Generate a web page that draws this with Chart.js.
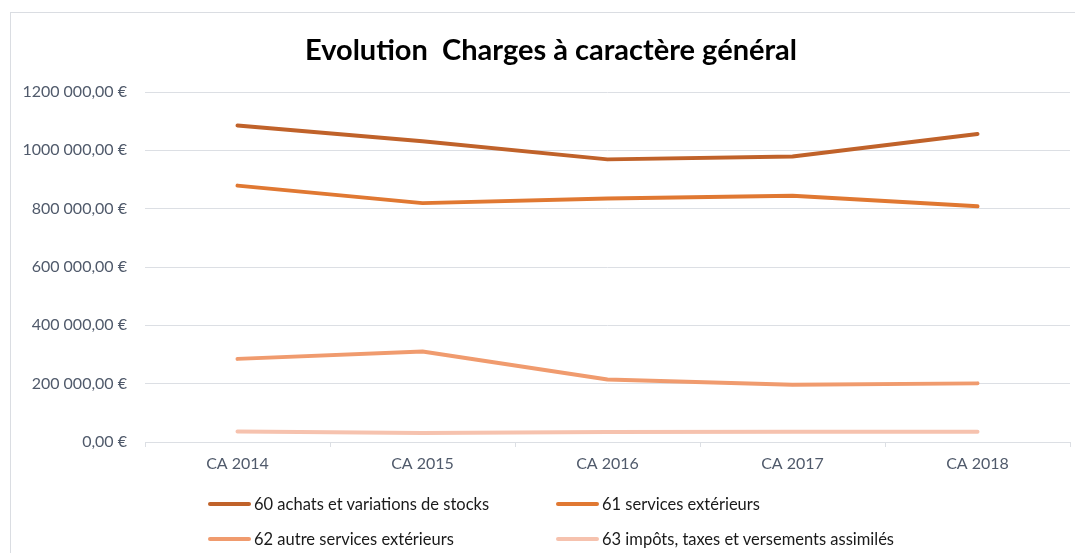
<!DOCTYPE html>
<html>
<head>
<meta charset="utf-8">
<script src="https://cdn.jsdelivr.net/npm/chart.js@4"></script>
<style>
  html, body { margin:0; padding:0; background:#fff; overflow:hidden; }
  #frame { position:absolute; left:10px; top:12px; width:1100px; height:600px; border:1px solid #DADDE2; }
  #wrap  { position:absolute; left:0; top:0; width:1075px; height:553px; }
  #title { position:absolute; left:0; top:31px; width:1102px; text-align:center; white-space:pre;
           font-family:Lato, sans-serif; font-weight:bold; font-size:29px; line-height:35px; color:#000; }
  #legend { position:absolute; left:208px; top:489px; display:grid; grid-template-columns:348px 348px; row-gap:5px;
            font-family:Lato, sans-serif; font-size:16.5px; color:#1a1a1a; }
  .lg-item { display:flex; align-items:center; height:30px; white-space:nowrap; }
  .lg-line { display:inline-block; width:43px; height:4px; border-radius:2px; margin-right:3px; }
</style>
</head>
<body>
<div id="frame"></div>
<div id="wrap"><canvas id="chart" width="1075" height="553"></canvas></div>
<div id="title"></div>
<div id="legend"></div>
<script>
// ── Data ────────────────────────────────────────────────────────────────
const chartTitle = 'Evolution  Charges à caractère général';
const years = ['CA 2014', 'CA 2015', 'CA 2016', 'CA 2017', 'CA 2018'];

const achats60   = [1085000, 1031000, 969000, 979000, 1056000];
const services61 = [ 879000,  819000, 835000, 844000,  808000];
const autres62   = [ 285000,  310000, 214000, 196000,  201000];
const impots63   = [  36000,   31000,  34000,  35000,   35000];

const seriesNames = [
  '60 achats et variations de stocks',
  '61 services extérieurs',
  '62 autre services extérieurs',
  '63 impôts, taxes et versements assimilés'
];
const seriesColors = ['#C0622A', '#E07832', '#F09B6E', '#F6C2AE'];

const yTicks      = [0, 200000, 400000, 600000, 800000, 1000000, 1200000];
const yTickLabels = ['0,00 €', '200 000,00 €', '400 000,00 €', '600 000,00 €', '800 000,00 €', '1000 000,00 €', '1200 000,00 €'];

// ── Chart ───────────────────────────────────────────────────────────────
const gridCol = '#DCDFE4';
const tickCol = '#505A6B';
const font    = 'Lato, sans-serif';

document.getElementById('title').textContent = chartTitle;

const datasets = [achats60, services61, autres62, impots63].map((vals, i) => ({
  label: seriesNames[i],
  data: vals,
  borderColor: seriesColors[i],
  backgroundColor: seriesColors[i],
  borderWidth: 4,
  borderCapStyle: 'round',
  borderJoinStyle: 'round',
  pointRadius: 0,
  tension: 0,
  fill: false,
}));

const chart = new Chart(document.getElementById('chart').getContext('2d'), {
  type: 'line',
  data: { labels: years, datasets },
  options: {
    responsive: false,
    animation: false,
    layout: { padding: { left: 0, right: 5, top: 92, bottom: 71 } },
    plugins: {
      legend: { display: false },
      tooltip: { enabled: false },
      title: { display: false }
    },
    scales: {
      x: {
        offset: true,
        grid: { display: true, drawOnChartArea: false, offset: true, color: gridCol, tickLength: 5 },
        border: { display: true, color: gridCol },
        ticks: { color: tickCol, padding: 7, maxRotation: 0, font: { family: font, size: 16 } },
        afterFit: s => { s.height = 40; }
      },
      y: {
        min: 0, max: 1200000,
        afterBuildTicks: s => { s.ticks = yTicks.map(v => ({ value: v })); },
        grid: { color: gridCol, drawTicks: false },
        border: { display: false },
        ticks: {
          color: tickCol, padding: 18, font: { family: font, size: 16 },
          callback: (v, i) => yTickLabels[i]
        },
        afterFit: s => { s.width = 145; }
      }
    }
  }
});

// ── HTML legend (two columns) ───────────────────────────────────────────
const lg = document.getElementById('legend');
chart.data.datasets.forEach(ds => {
  const item = document.createElement('div');
  item.className = 'lg-item';
  const line = document.createElement('span');
  line.className = 'lg-line';
  line.style.background = ds.borderColor;
  const txt = document.createElement('span');
  txt.textContent = ds.label;
  item.appendChild(line);
  item.appendChild(txt);
  lg.appendChild(item);
});
</script>
</body>
</html>
